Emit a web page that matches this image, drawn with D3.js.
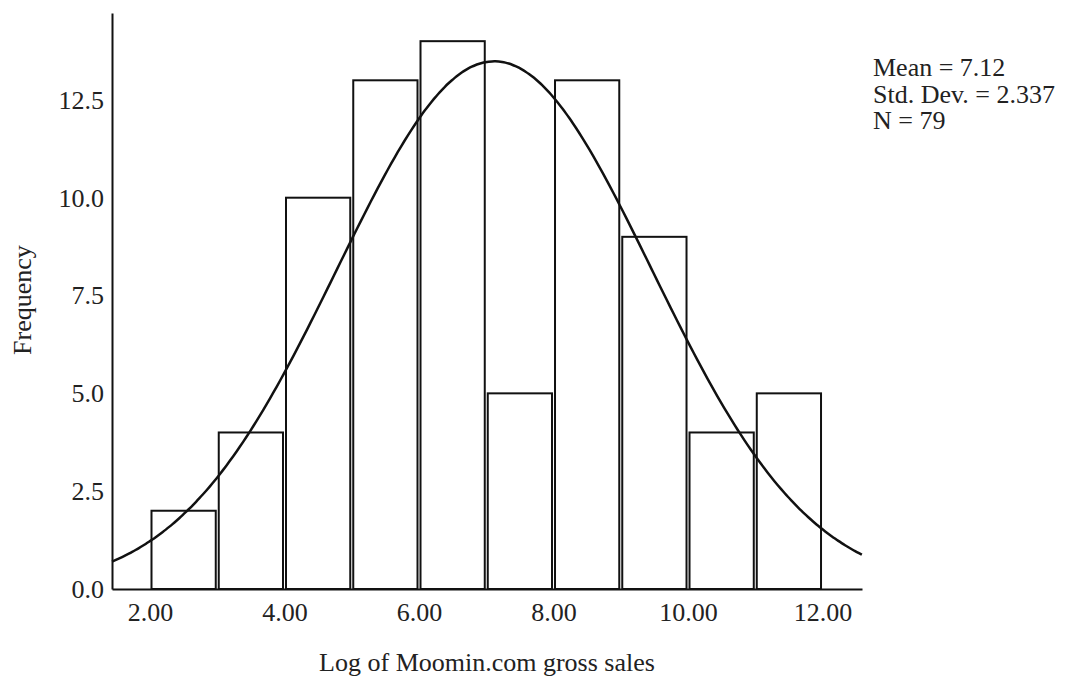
<!DOCTYPE html>
<html>
<head>
<meta charset="utf-8">
<script src="https://cdnjs.cloudflare.com/ajax/libs/d3/7.8.5/d3.min.js"></script>
<style>
    body { margin: 0; background: #fff; }
    text { font-family: "Liberation Serif", "Times New Roman", serif; fill: #222; }
</style>
</head>
<body>
<svg width="1070" height="678"></svg>
<script>
// Histogram bins (lower edge of each bin, width 1) and their counts
var binStarts = [2, 3, 4, 5, 6, 7, 8, 9, 10, 11];
var binCounts = [2, 4, 10, 13, 14, 5, 13, 9, 4, 5];

// Tick labels
var xTicks = [2, 4, 6, 8, 10, 12];
var yTicks = [0, 2.5, 5, 7.5, 10, 12.5];

// Summary stats shown in the legend (used for the normal curve)
var statMean = 7.12;
var statSd = 2.337;
var statN = 79;
var binWidth = 1;

var svg = d3.select('svg');

// Scales
var xScale = d3.scaleLinear()
    .domain([1.435, 12.587])
    .range([112, 862]);

var yScale = d3.scaleLinear()
    .domain([0, 14.72])
    .range([589, 13]);

// Bars
svg.selectAll('.bar')
    .data(binStarts)
    .enter()
    .append('rect')
    .attr('class', 'bar')
    .attr('x', function(d) { return xScale(d) + 1.5; })
    .attr('width', function(d) { return xScale(d + binWidth) - xScale(d) - 3; })
    .attr('y', function(d, i) { return yScale(binCounts[i]); })
    .attr('height', function(d, i) { return yScale(0) - yScale(binCounts[i]); })
    .attr('fill', '#fff')
    .attr('stroke', '#111')
    .attr('stroke-width', 2);

// Normal curve scaled to counts
function normalCount(v) {
    var z = (v - statMean) / statSd;
    return statN * binWidth * Math.exp(-0.5 * z * z) / (statSd * Math.sqrt(2 * Math.PI));
}
var curveXs = d3.range(xScale.domain()[0], xScale.domain()[1] + 0.001, 0.05);
var line = d3.line()
    .x(function(d) { return xScale(d); })
    .y(function(d) { return yScale(normalCount(d)); })
    .curve(d3.curveBasis);

svg.append('path')
    .datum(curveXs)
    .attr('d', line)
    .attr('fill', 'none')
    .attr('stroke', '#111')
    .attr('stroke-width', 2.5);

// Axes
var xAxisG = svg.append('g')
    .attr('transform', 'translate(0,' + yScale(0) + ')')
    .call(d3.axisBottom(xScale)
        .tickValues(xTicks)
        .tickFormat(d3.format('.2f'))
        .tickSize(0)
        .tickPadding(14));

var yAxisG = svg.append('g')
    .attr('transform', 'translate(' + xScale.range()[0] + ',0)')
    .call(d3.axisLeft(yScale)
        .tickValues(yTicks)
        .tickFormat(d3.format('.1f'))
        .tickSize(0)
        .tickPadding(8));

svg.selectAll('.domain')
    .attr('stroke', '#111')
    .attr('stroke-width', 2);
svg.selectAll('.tick text')
    .attr('font-family', '"Liberation Serif", "Times New Roman", serif')
    .attr('font-size', 26)
    .attr('fill', '#222');

// Axis titles
svg.append('text')
    .attr('x', 487)
    .attr('y', 671)
    .attr('text-anchor', 'middle')
    .attr('font-size', 26)
    .text('Log of Moomin.com gross sales');

svg.append('text')
    .attr('transform', 'translate(31,300) rotate(-90)')
    .attr('text-anchor', 'middle')
    .attr('font-size', 26)
    .text('Frequency');

// Legend stats
var legendLines = ['Mean = 7.12', 'Std. Dev. = 2.337', 'N = 79'];
svg.selectAll('.stat')
    .data(legendLines)
    .enter()
    .append('text')
    .attr('class', 'stat')
    .attr('x', 873)
    .attr('y', function(d, i) { return 76 + i * 26.5; })
    .attr('font-size', 26)
    .text(function(d) { return d; });
</script>
</body>
</html>
